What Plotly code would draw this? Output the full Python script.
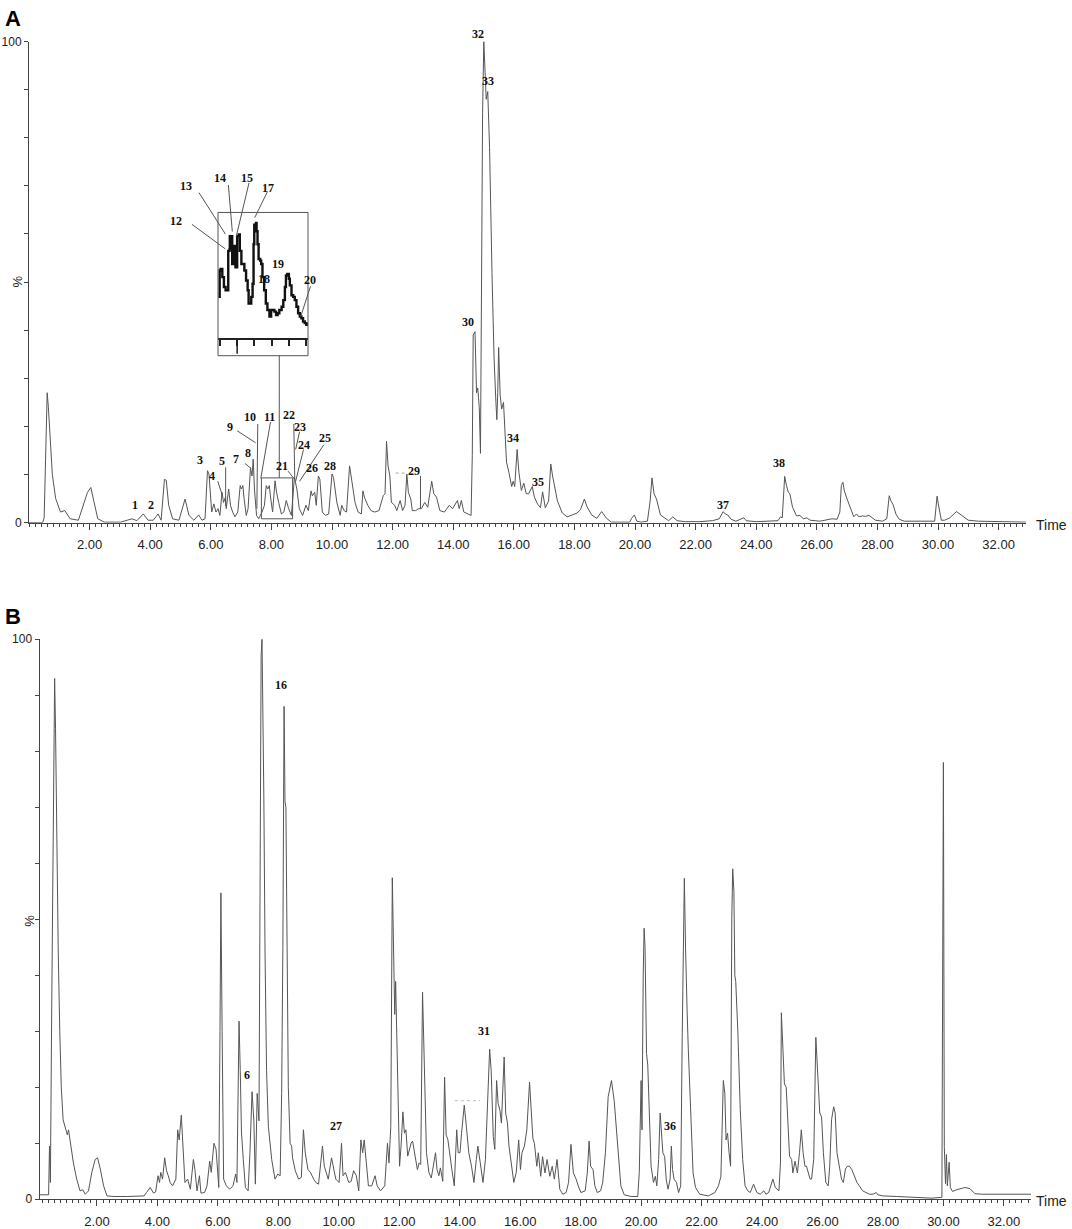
import plotly.graph_objects as go

W, H = 1072, 1229

# ---- panel A trace (time in min, relative intensity %)
a_time = [0.00, 0.45, 0.50, 0.55, 0.60, 0.64, 0.68, 0.77, 0.88, 1.04,
          1.18, 1.36, 1.63, 1.79, 1.93, 2.04, 2.14, 2.27, 2.49, 3.02,
          3.24, 3.40, 3.56, 3.77, 3.93, 4.10, 4.26, 4.36, 4.47, 4.53,
          4.61, 4.74, 4.95, 5.15, 5.28, 5.44, 5.60, 5.71, 5.81, 5.89,
          5.94, 6.03, 6.10, 6.17, 6.24, 6.30, 6.37, 6.42, 6.48, 6.51,
          6.59, 6.65, 6.72, 6.80, 6.89, 6.97, 7.01, 7.06, 7.10, 7.17,
          7.23, 7.31, 7.36, 7.40, 7.44, 7.51, 7.58, 7.69, 7.77, 7.83,
          7.88, 7.93, 7.98, 8.04, 8.12, 8.17, 8.24, 8.33, 8.41, 8.49,
          8.57, 8.66, 8.76, 8.84, 8.92, 9.03, 9.14, 9.22, 9.31, 9.35,
          9.43, 9.48, 9.55, 9.60, 9.68, 9.78, 9.89, 10.00, 10.05, 10.16,
          10.27, 10.32, 10.40, 10.48, 10.58, 10.68, 10.76, 10.86, 10.97, 11.02,
          11.07, 11.18, 11.29, 11.41, 11.55, 11.69, 11.75, 11.80, 11.85, 11.91,
          11.96, 12.07, 12.14, 12.25, 12.33, 12.41, 12.47, 12.52, 12.60, 12.65,
          12.76, 12.86, 12.95, 13.06, 13.16, 13.29, 13.36, 13.45, 13.56, 13.71,
          13.87, 13.98, 14.14, 14.20, 14.27, 14.35, 14.51, 14.59, 14.63, 14.66,
          14.72, 14.77, 14.81, 14.86, 14.90, 14.93, 14.97, 15.01, 15.05, 15.09,
          15.14, 15.20, 15.28, 15.35, 15.41, 15.44, 15.47, 15.50, 15.55, 15.60,
          15.66, 15.71, 15.76, 15.84, 15.93, 15.98, 16.03, 16.11, 16.17, 16.25,
          16.33, 16.41, 16.49, 16.61, 16.68, 16.79, 16.88, 16.95, 17.04, 17.15,
          17.22, 17.28, 17.34, 17.44, 17.60, 17.76, 17.93, 18.09, 18.20, 18.33,
          18.41, 18.57, 18.74, 18.90, 19.06, 19.22, 19.82, 19.89, 19.98, 20.06,
          20.20, 20.41, 20.50, 20.56, 20.63, 20.71, 20.84, 21.11, 21.25, 21.39,
          21.66, 22.11, 22.56, 22.78, 22.91, 22.98, 23.06, 23.17, 23.33, 23.59,
          23.67, 24.00, 24.72, 24.80, 24.86, 24.90, 24.94, 25.00, 25.06, 25.11,
          25.20, 25.33, 25.44, 25.56, 25.67, 25.78, 26.11, 26.50, 26.67, 26.76,
          26.81, 26.86, 26.91, 27.00, 27.11, 27.22, 27.31, 27.39, 27.50, 27.61,
          27.72, 27.83, 27.94, 28.17, 28.31, 28.39, 28.44, 28.52, 28.61, 28.72,
          28.89, 29.89, 29.92, 29.97, 30.01, 30.06, 30.11, 30.22, 30.39, 30.61,
          30.78, 31.00, 31.33, 32.90]
a_pct = [0, 0, 1.0, 14, 27, 24, 19, 10, 5, 2.2,
         2.5, 0.8, 0.5, 3.6, 6.3, 7.3, 4.2, 0.8, 0.1, 0.1,
         0.5, 0.8, 0.4, 1.8, 0.5, 0.5, 1.8, 0.5, 9.0, 8.8,
         3.6, 0.8, 0.5, 4.9, 1.5, 0.5, 1.6, 0.5, 0.8, 10.8,
         10.1, 2.2, 3.9, 2.2, 2.9, 1.5, 6.3, 4.2, 5.2, 2.9,
         7.0, 3.6, 2.2, 1.2, 2.2, 7.7, 7.0, 7.7, 4.9, 1.5,
         2.9, 11.4, 9.7, 13.2, 7.0, 1.5, 0.8, 2.2, 3.6, 7.7,
         7.0, 7.7, 4.9, 2.2, 8.7, 6.3, 4.2, 1.8, 2.2, 4.6,
         2.9, 1.5, 9.4, 7.0, 2.9, 1.5, 3.6, 2.5, 6.6, 5.6,
         6.3, 3.6, 9.7, 9.0, 2.2, 1.5, 1.8, 10.1, 9.4, 4.2,
         1.5, 3.6, 2.5, 2.2, 11.8, 7.0, 4.2, 2.2, 1.8, 6.6,
         5.3, 3.6, 2.5, 2.2, 2.5, 5.6, 6.0, 16.9, 11.8, 9.7,
         4.2, 3.6, 2.5, 4.6, 2.5, 3.6, 10.1, 6.3, 4.9, 2.5,
         2.5, 2.9, 2.9, 4.2, 3.2, 8.6, 6.0, 5.3, 2.5, 2.2,
         3.6, 2.9, 4.6, 2.9, 4.6, 2.2, 1.8, 1.5, 14, 39,
         39.7, 27, 28, 24, 14.4, 51, 85, 100, 95, 88,
         89.6, 78, 52, 34, 25, 21.4, 27, 36.4, 26.5, 23.6,
         25, 17, 12.6, 10.4, 7.5, 8.6, 7.5, 15.2, 10.4, 6.7,
         8.2, 6.0, 6.0, 7.5, 5.3, 3.8, 3.1, 6.4, 3.1, 4.5,
         12.2, 9.7, 7.8, 4.5, 2.0, 1.2, 1.6, 2.0, 2.7, 4.9,
         3.4, 1.6, 0.9, 2.3, 0.9, 0.1, 0.1, 0.9, 1.6, 0.3,
         0.1, 0.3, 4.5, 9.3, 6.0, 4.9, 1.6, 0.4, 1.2, 0.4,
         0.2, 0.2, 0.4, 0.8, 2.3, 1.8, 1.6, 0.7, 0.3, 1.0,
         0.4, 0.2, 0.4, 1.2, 1.0, 5.6, 9.6, 7.7, 6.3, 6.0,
         3.2, 1.4, 1.5, 0.8, 1.0, 0.5, 0.3, 0.8, 0.7, 2.2,
         7.7, 8.4, 6.6, 4.9, 3.2, 1.2, 1.8, 1.2, 1.4, 1.3,
         1.5, 1.0, 0.5, 0.3, 0.8, 5.6, 4.6, 3.7, 1.8, 0.7,
         0.3, 0.3, 1.8, 5.5, 3.9, 2.5, 0.5, 0.5, 1.0, 2.3,
         1.5, 0.5, 0.3, 0.1]

# ---- panel B trace
b_time = [0.00, 0.40, 0.43, 0.46, 0.50, 0.55, 0.60, 0.63, 0.67, 0.72,
          0.77, 0.82, 0.88, 0.96, 1.02, 1.06, 1.13, 1.22, 1.33, 1.44,
          1.53, 1.61, 1.72, 1.83, 1.94, 2.02, 2.11, 2.22, 2.33, 2.56,
          3.00, 3.56, 3.64, 3.76, 3.87, 3.94, 4.02, 4.07, 4.11, 4.17,
          4.24, 4.30, 4.36, 4.42, 4.50, 4.61, 4.67, 4.72, 4.79, 4.84,
          4.91, 5.00, 5.09, 5.19, 5.24, 5.31, 5.39, 5.44, 5.56, 5.64,
          5.73, 5.78, 5.87, 5.94, 6.00, 6.03, 6.07, 6.10, 6.14, 6.19,
          6.28, 6.39, 6.50, 6.59, 6.63, 6.70, 6.74, 6.78, 6.84, 6.91,
          7.00, 7.06, 7.13, 7.19, 7.24, 7.30, 7.36, 7.40, 7.43, 7.46,
          7.49, 7.52, 7.56, 7.61, 7.67, 7.78, 7.89, 7.98, 8.06, 8.11,
          8.15, 8.19, 8.22, 8.25, 8.29, 8.33, 8.39, 8.44, 8.47, 8.56,
          8.67, 8.76, 8.83, 8.89, 8.98, 9.06, 9.17, 9.24, 9.33, 9.46,
          9.52, 9.58, 9.65, 9.76, 9.82, 9.90, 10.01, 10.09, 10.14, 10.22,
          10.33, 10.41, 10.49, 10.58, 10.66, 10.73, 10.79, 10.84, 10.91, 10.98,
          11.09, 11.20, 11.27, 11.38, 11.52, 11.61, 11.66, 11.72, 11.77, 11.81,
          11.85, 11.88, 11.93, 11.98, 12.01, 12.06, 12.12, 12.17, 12.22, 12.28,
          12.33, 12.39, 12.44, 12.50, 12.55, 12.60, 12.66, 12.71, 12.77, 12.82,
          12.85, 12.90, 12.98, 13.06, 13.14, 13.20, 13.25, 13.31, 13.36, 13.44,
          13.50, 13.55, 13.61, 13.68, 13.74, 13.82, 13.90, 13.95, 14.01, 14.06,
          14.15, 14.22, 14.30, 14.39, 14.47, 14.55, 14.60, 14.68, 14.77, 14.85,
          14.93, 14.99, 15.04, 15.11, 15.16, 15.22, 15.27, 15.33, 15.38, 15.41,
          15.47, 15.52, 15.58, 15.63, 15.71, 15.79, 15.87, 15.95, 16.01, 16.06,
          16.14, 16.22, 16.31, 16.36, 16.42, 16.47, 16.55, 16.60, 16.68, 16.74,
          16.82, 16.89, 16.98, 17.06, 17.13, 17.22, 17.31, 17.41, 17.52, 17.60,
          17.68, 17.76, 17.85, 17.92, 18.01, 18.15, 18.22, 18.28, 18.33, 18.41,
          18.47, 18.55, 18.66, 18.73, 18.82, 18.91, 19.02, 19.11, 19.20, 19.28,
          19.33, 19.44, 19.67, 19.89, 19.94, 20.00, 20.03, 20.07, 20.10, 20.13,
          20.18, 20.22, 20.28, 20.33, 20.41, 20.47, 20.52, 20.58, 20.63, 20.68,
          20.72, 20.78, 20.83, 20.89, 20.96, 21.00, 21.04, 21.09, 21.17, 21.24,
          21.31, 21.36, 21.40, 21.43, 21.47, 21.50, 21.52, 21.56, 21.61, 21.67,
          21.72, 21.80, 21.94, 22.22, 22.44, 22.56, 22.64, 22.72, 22.77, 22.81,
          22.86, 22.91, 22.96, 23.00, 23.03, 23.07, 23.10, 23.13, 23.20, 23.28,
          23.36, 23.44, 23.53, 23.61, 23.72, 23.83, 23.94, 24.06, 24.13, 24.22,
          24.36, 24.44, 24.56, 24.61, 24.64, 24.69, 24.74, 24.80, 24.86, 24.91,
          24.98, 25.02, 25.09, 25.17, 25.24, 25.30, 25.36, 25.42, 25.47, 25.52,
          25.59, 25.64, 25.71, 25.78, 25.83, 25.91, 25.97, 26.03, 26.11, 26.19,
          26.24, 26.30, 26.37, 26.42, 26.48, 26.56, 26.63, 26.69, 26.76, 26.82,
          26.89, 26.97, 27.06, 27.14, 27.22, 27.33, 27.44, 27.56, 27.67, 27.78,
          27.83, 28.00, 28.44, 28.89, 29.62, 29.95, 29.97, 30.00, 30.03, 30.07,
          30.10, 30.13, 30.19, 30.23, 30.30, 30.44, 30.71, 30.88, 31.04, 31.26,
          32.90]
b_pct = [0.8, 0.8, 9.5, 3.0, 32, 65, 93, 84, 65, 44,
         30, 20, 14.2, 12.4, 11.5, 12.4, 9.5, 6.5, 3.6, 1.5,
         1.7, 0.9, 1.5, 4.8, 7.1, 7.4, 5.4, 2.4, 0.6, 0.5,
         0.5, 0.6, 1.2, 2.1, 1.1, 1.3, 4.2, 3.0, 4.8, 3.6,
         7.4, 5.1, 4.2, 3.0, 2.4, 3.6, 12.4, 10.6, 15.0, 10.6,
         3.0, 3.6, 1.8, 7.1, 5.3, 1.5, 4.2, 1.1, 1.2, 2.4,
         6.8, 4.8, 10.0, 8.9, 5.3, 2.1, 30, 54.7, 30, 3.6,
         2.4, 1.8, 2.4, 4.5, 3.0, 31.8, 23, 12, 7.1, 2.1,
         1.5, 8.3, 19.2, 14.0, 2.7, 18.9, 14.0, 60, 97, 100,
         90, 72, 44, 23, 13, 7.1, 3.6, 4.5, 4.2, 18.9,
         45, 88, 71, 70, 45, 20, 10, 9.5, 7.4, 5.1,
         3.6, 3.9, 12.4, 8.3, 5.3, 4.8, 3.6, 3.0, 2.7, 9.5,
         5.9, 4.8, 3.6, 7.4, 6.0, 3.6, 3.0, 10.0, 4.2, 4.8,
         3.0, 3.2, 5.1, 4.2, 1.5, 10.6, 8.3, 10.6, 6.5, 2.4,
         2.4, 4.2, 2.4, 1.5, 2.4, 10.0, 6.5, 13.0, 57.4, 45,
         33, 38.9, 25.9, 10.6, 5.9, 9.5, 15.6, 11.8, 12.4, 7.7,
         8.9, 10.0, 10.4, 8.3, 7.1, 5.3, 6.5, 6.2, 37, 21.8,
         19.5, 8.3, 4.8, 3.8, 6.5, 8.3, 5.3, 4.2, 5.6, 3.2,
         21.8, 11.5, 10.6, 7.1, 5.3, 2.4, 12.4, 8.3, 8.3, 11.8,
         16.8, 13.0, 8.3, 5.9, 3.0, 7.1, 9.5, 6.5, 3.0, 7.1,
         17.1, 26.8, 23, 11.2, 8.9, 21.2, 17.1, 15.9, 13.6, 17.7,
         25.4, 15.4, 13.6, 9.5, 5.9, 3.0, 4.8, 10.6, 5.3, 8.3,
         9.5, 12.4, 20.9, 15.9, 10.9, 10.0, 5.9, 8.3, 4.1, 7.6,
         4.7, 7.1, 4.1, 5.9, 3.6, 7.1, 1.8, 0.9, 1.2, 3.0,
         9.8, 4.7, 3.6, 2.4, 1.2, 1.5, 4.7, 10.4, 5.9, 5.3,
         2.4, 1.2, 1.5, 3.0, 8.3, 18.3, 21.2, 17.6, 10.6, 5.3,
         2.4, 0.8, 0.5, 0.5, 4.8, 21.2, 12.4, 40, 48.4, 45,
         26, 24, 14.2, 5.9, 3.0, 4.1, 2.4, 7.1, 15.4, 10.6,
         8.3, 7.6, 3.6, 1.8, 3.6, 9.5, 5.3, 3.6, 3.0, 1.2,
         2.4, 28.9, 50, 57.3, 45, 34, 34, 27, 18.9, 10,
         4.7, 2.1, 0.9, 0.6, 1.2, 2.4, 4.1, 21.2, 18.9, 10.6,
         11.8, 8.3, 5.9, 50, 59, 55, 40, 38.9, 30, 16,
         7.1, 2.4, 1.5, 1.2, 2.7, 1.2, 0.9, 1.5, 0.9, 1.2,
         3.6, 2.1, 1.5, 6.5, 33.3, 27, 20.6, 20, 14.2, 7.7,
         7.1, 4.7, 6.8, 4.7, 8.3, 12.4, 8.3, 5.9, 5.9, 4.7,
         3.6, 3.6, 7.1, 28.9, 23, 15.4, 14.7, 8.3, 3.0, 2.4,
         5.9, 14.2, 16.5, 15.4, 8.3, 5.3, 3.6, 3.0, 5.4, 5.9,
         5.9, 5.3, 4.1, 3.0, 2.4, 1.5, 1.2, 0.9, 0.9, 1.2,
         0.8, 0.6, 0.5, 0.4, 0.2, 0.35, 51, 78, 9.4, 2.8,
         8, 2.4, 6.6, 2.1, 1.4, 1.7, 2.1, 1.9, 1.0, 0.9,
         0.9]

# ---- magnified inset of panel A (7.7 - 8.72 min)
inset_time = [7.704, 7.719, 7.730, 7.749, 7.767, 7.786, 7.805, 7.816, 7.831, 7.834,
              7.853, 7.861, 7.872, 7.879, 7.891, 7.898, 7.909, 7.917, 7.935, 7.947,
              7.965, 7.984, 7.999, 8.018, 8.036, 8.047, 8.066, 8.077, 8.092, 8.103,
              8.111, 8.130, 8.137, 8.148, 8.160, 8.178, 8.189, 8.204, 8.223, 8.242,
              8.260, 8.283, 8.302, 8.320, 8.339, 8.358, 8.376, 8.395, 8.421, 8.440,
              8.458, 8.470, 8.485, 8.503, 8.514, 8.533, 8.552, 8.570, 8.589, 8.608,
              8.627, 8.645, 8.664, 8.683, 8.701, 8.720]
inset_pct = [3.11, 5.10, 5.22, 4.60, 3.86, 3.61, 3.61, 6.59, 6.72, 7.71,
             7.71, 5.60, 5.60, 6.97, 6.97, 5.35, 5.35, 7.71, 7.84, 6.59,
             5.60, 5.60, 5.10, 4.35, 3.61, 2.61, 2.61, 3.11, 4.10, 7.09,
             8.58, 8.71, 8.08, 7.09, 5.97, 5.85, 5.60, 4.60, 3.61, 2.61,
             2.11, 1.62, 2.11, 2.11, 1.99, 1.74, 1.87, 2.11, 2.36, 2.86,
             3.86, 4.73, 4.85, 4.48, 3.98, 3.23, 3.11, 2.86, 2.36, 1.87,
             1.62, 1.49, 1.24, 1.12, 1.00, 1.12]
inset_ticks = [7.719, 7.917, 8.111, 8.309, 8.507, 8.701]

# ---- peak labels (text, time, %)
a_labels = [("1", 3.50, 3.7), ("2", 4.01, 3.7), ("3", 5.65, 13.1), ("4", 6.04, 9.7),
            ("5", 6.36, 12.9), ("7", 6.84, 13.3), ("8", 7.23, 14.4), ("9", 6.62, 19.9),
            ("10", 7.29, 22.0), ("11", 7.94, 22.0), ("21", 8.36, 11.7), ("22", 8.58, 22.4),
            ("23", 8.93, 19.9), ("24", 9.09, 16.2), ("25", 9.77, 17.5), ("26", 9.35, 11.3),
            ("28", 9.93, 11.7), ("29", 12.72, 10.7), ("30", 14.49, 41.7),
            ("33", 15.15, 91.8), ("34", 15.97, 17.5), ("35", 16.80, 8.4), ("37", 22.90, 3.7),
            ("38", 24.75, 12.3),
            ("12", 4.86, 62.6), ("13", 5.19, 70.0), ("14", 6.31, 71.7), ("15", 7.21, 71.7),
            ("17", 7.89, 69.6), ("18", 7.76, 50.7), ("19", 8.21, 53.8), ("20", 9.27, 50.5)]
a_top_label = ("32", 14.82, 27)   # text, time, pixel row (sits above the 100 % line)
b_labels = [("16", 8.09, 91.9), ("6", 6.96, 22.2), ("27", 9.91, 13.1),
            ("31", 14.80, 30.0), ("36", 20.96, 13.1)]

# leader lines in panel A units (t0, p0, t1, p1)
a_leaders = [(6.23, 8.6, 6.39, 5.5), (6.49, 11.5, 6.49, 3.5), (7.13, 12.3, 7.32, 11.3),
             (6.87, 19.1, 7.48, 16.6), (7.55, 20.5, 7.52, 2.9), (7.97, 20.9, 7.65, 9.2),
             (8.55, 10.7, 8.77, 9.0), (8.74, 20.5, 8.77, 9.2), (8.93, 18.9, 8.80, 15.2),
             (9.06, 15.2, 8.80, 8.6), (9.73, 16.2, 8.93, 8.6), (12.92, 9.7, 12.92, 2.9),
             (5.38, 62.0, 6.48, 56.9), (5.61, 68.6, 6.48, 60.0), (6.58, 70.2, 6.71, 60.5),
             (7.26, 70.6, 6.84, 59.5), (7.87, 68.8, 7.45, 63.4), (9.29, 49.1, 8.97, 42.9),
             (8.26, 9.3, 8.26, 34.7)]

major_ticks = list(range(2, 33, 2))
major_text = [f"{v:.2f}" for v in major_ticks]

AX = "#444444"
LINE = "#555555"
SANS = "Liberation Sans, Arial, sans-serif"
SERIF = "Liberation Serif, Times New Roman, serif"

A_T0, A_PX = 29, 30.3      # panel A: pixel of t=0, pixels per minute
B_T0, B_PX = 36.5, 30.23   # panel B


def xax(domain, rng, anchor):
    return dict(domain=domain, range=rng, anchor=anchor, showline=True, linecolor=AX,
                linewidth=1, ticks="outside", ticklen=6, tickcolor=AX, tickwidth=1,
                tickvals=major_ticks, ticktext=major_text, ticklabelstandoff=4,
                tickfont=dict(family=SANS, size=13, color="#222"),
                minor=dict(tickmode="linear", tick0=0, dtick=0.2, ticks="outside",
                           ticklen=3, tickcolor=AX),
                showgrid=False, zeroline=False)


def yax(domain, anchor):
    return dict(domain=domain, range=[0, 100], anchor=anchor, showline=True, linecolor=AX,
                linewidth=1, ticks="outside", ticklen=4, tickcolor=AX,
                tickvals=[0, 100], ticktext=["0", "100"],
                tickfont=dict(family=SANS, size=12, color="#222"),
                minor=dict(tickmode="linear", tick0=0, dtick=10, ticks="outside",
                           ticklen=4, tickcolor=AX),
                showgrid=False, zeroline=False)


def paper_text(txt, px, py, font, **kw):
    opts = dict(text=txt, x=px / W, y=1 - py / H, xref="paper", yref="paper",
                xanchor="center", yanchor="middle", showarrow=False, font=font)
    opts.update(kw)
    return opts


fig = go.Figure()
fig.add_trace(go.Scatter(x=a_time, y=a_pct, xaxis="x", yaxis="y", mode="lines",
                         line=dict(color=LINE, width=1), hoverinfo="skip"))
fig.add_trace(go.Scatter(x=b_time, y=b_pct, xaxis="x2", yaxis="y2", mode="lines",
                         line=dict(color=LINE, width=1), hoverinfo="skip"))
fig.add_trace(go.Scatter(x=inset_time, y=inset_pct, xaxis="x3", yaxis="y3", mode="lines",
                         line=dict(color="#111", width=2.4, shape="hv"), hoverinfo="skip"))

shapes = []
for t0, p0, t1, p1 in a_leaders:
    shapes.append(dict(type="line", xref="x", yref="y", x0=t0, y0=p0, x1=t1, y1=p1,
                       line=dict(color=LINE, width=1)))
# small selection box and inset frame
shapes.append(dict(type="rect", xref="x", yref="y", x0=7.67, x1=8.70, y0=0.8, y1=9.3,
                   line=dict(color=LINE, width=1)))
shapes.append(dict(type="rect", xref="paper", yref="paper", x0=218 / W, x1=308 / W,
                   y0=1 - 353 / H, y1=1 - 208 / H, line=dict(color=LINE, width=1)))
shapes.append(dict(type="line", xref="x3", yref="paper", x0=inset_ticks[1], x1=inset_ticks[1],
                   y0=1 - 335 / H, y1=1 - 351 / H, line=dict(color="#222", width=1.5)))
# faint dotted marks
shapes.append(dict(type="line", xref="x", yref="y", x0=12.10, x1=12.42, y0=10.3, y1=10.3,
                   line=dict(color="#aaa", width=1, dash="dot")))
shapes.append(dict(type="line", xref="x2", yref="y2", x0=13.84, x1=14.67, y0=17.6, y1=17.6,
                   line=dict(color="#bbb", width=1, dash="dot")))

lab_font = dict(family=SERIF, size=12, color="#111", weight="bold")
ann = []
for txt, t, p in a_labels:
    ann.append(dict(text=txt, x=t, y=p, xref="x", yref="y", showarrow=False, font=lab_font))
txt, t, row = a_top_label
ann.append(dict(text=txt, x=t, y=1 - row / H, xref="x", yref="paper", yanchor="middle",
                showarrow=False, font=lab_font))
for txt, t, p in b_labels:
    ann.append(dict(text=txt, x=t, y=p, xref="x2", yref="y2", showarrow=False, font=lab_font))
for txt, px, py in [("A", 13, 12), ("B", 13, 617)]:
    ann.append(paper_text(txt, px, py, dict(family=SANS, size=22, color="#000", weight="bold")))
for px, py in [(18, 278), (30, 925)]:
    ann.append(paper_text("%", px, py, dict(family=SANS, size=13, color="#222"), textangle=-90))
for py in [524, 1209]:
    ann.append(paper_text("Time", 1034, py, dict(family=SANS, size=14, color="#222"),
                          xanchor="left"))

a_dom_y = [1 - 522 / H, 1 - 35 / H]
b_dom_y = [1 - 1207 / H, 1 - 640 / H]

fig.update_layout(
    width=W, height=H, margin=dict(l=0, r=0, t=0, b=0),
    paper_bgcolor="white", plot_bgcolor="rgba(0,0,0,0)", showlegend=False,
    xaxis=xax([A_T0 / W, (A_T0 + 32.9 * A_PX) / W], [0, 32.9], "y"),
    yaxis=yax(a_dom_y, "x"),
    xaxis2=xax([(B_T0 + 0.1 * B_PX) / W, (B_T0 + 32.9 * B_PX) / W], [0.1, 32.9], "y2"),
    yaxis2=yax(b_dom_y, "x2"),
    xaxis3=dict(domain=[218 / W, 308 / W], range=[7.7, 8.72], anchor="y3", showline=True,
                linecolor="#222", linewidth=1.5, ticks="outside", ticklen=6, tickwidth=1.5,
                tickcolor="#222", tickvals=inset_ticks, showticklabels=False,
                showgrid=False, zeroline=False),
    yaxis3=dict(domain=[1 - 335 / H, 1 - 208 / H], range=[0, 9.5], anchor="x3", visible=False),
    shapes=shapes, annotations=ann,
)

fig.write_html("out.html", config={"displayModeBar": False},
               post_script="document.body.style.margin='0';")
